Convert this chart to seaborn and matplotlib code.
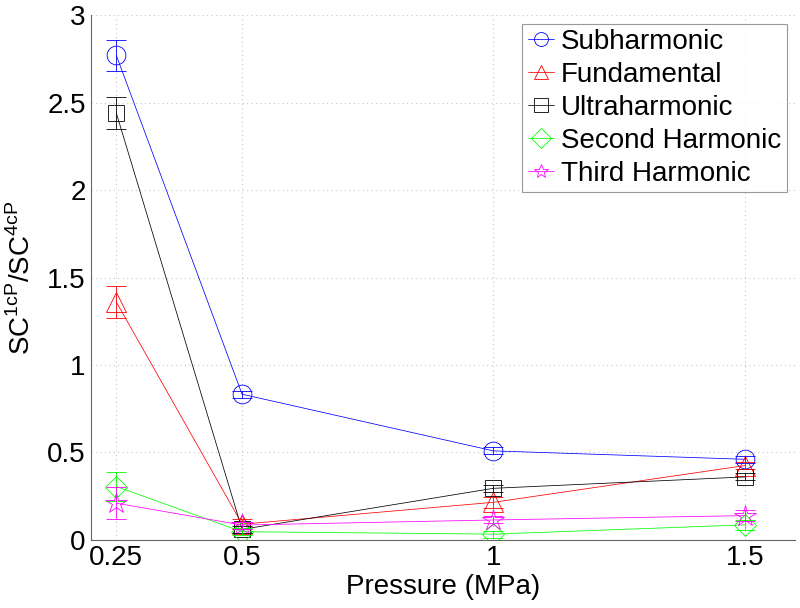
import numpy as np
import pandas as pd
import matplotlib
matplotlib.use("Agg")
import matplotlib.pyplot as plt
import seaborn as sns

pressure = [0.25, 0.5, 1.0, 1.5]
series_names = ["Subharmonic", "Fundamental", "Ultraharmonic", "Second Harmonic", "Third Harmonic"]
subharmonic = [2.77, 0.833, 0.509, 0.461]
fundamental = [1.36, 0.09, 0.215, 0.425]
ultraharmonic = [2.44, 0.06, 0.295, 0.36]
second_harmonic = [0.305, 0.047, 0.033, 0.086]
third_harmonic = [0.21, 0.085, 0.114, 0.139]
subharmonic_err = [0.09, 0.02, 0.02, 0.02]
fundamental_err = [0.09, 0.03, 0.03, 0.02]
ultraharmonic_err = [0.09, 0.02, 0.02, 0.02]
second_harmonic_err = [0.085, 0.02, 0.02, 0.03]
third_harmonic_err = [0.09, 0.02, 0.02, 0.03]

values = [subharmonic, fundamental, ultraharmonic, second_harmonic, third_harmonic]
errors = [subharmonic_err, fundamental_err, ultraharmonic_err, second_harmonic_err, third_harmonic_err]
colors = {"Subharmonic": "#0000ff", "Fundamental": "#ff0000", "Ultraharmonic": "#000000",
          "Second Harmonic": "#00ff00", "Third Harmonic": "#ff00ff"}
markers = {"Subharmonic": "o", "Fundamental": "^", "Ultraharmonic": "s",
           "Second Harmonic": "D", "Third Harmonic": "*"}
msizes = {"Subharmonic": 13.5, "Fundamental": 14, "Ultraharmonic": 11,
          "Second Harmonic": 11, "Third Harmonic": 16}

rows = []
for name, vals, errs in zip(series_names, values, errors):
    for p, v, e in zip(pressure, vals, errs):
        rows.append({"Pressure": p, "Value": v, "Err": e, "Series": name})
df = pd.DataFrame(rows)

sns.set_theme(style="white")
plt.rcParams["font.family"] = ["Liberation Sans", "DejaVu Sans"]
plt.rcParams["mathtext.fontset"] = "custom"
plt.rcParams["mathtext.rm"] = "Liberation Sans"
plt.rcParams["text.color"] = "black"
plt.rcParams["axes.labelcolor"] = "black"
plt.rcParams["xtick.color"] = "black"
plt.rcParams["ytick.color"] = "black"

fig = plt.figure(figsize=(8, 6.08), dpi=100)
ax = fig.add_axes([0.114, 0.112, 0.880, 0.863])

# grid
ax.set_axisbelow(True)
ax.grid(True, linestyle=(0, (1, 3)), color="#c8c8c8", linewidth=0.8)

sns.lineplot(data=df, x="Pressure", y="Value", hue="Series", style="Series",
             hue_order=series_names, style_order=series_names,
             palette=colors, markers=markers, dashes=False, linewidth=0.55,
             legend=False, ax=ax, sort=False, estimator=None)

for line, name in zip(ax.get_lines(), series_names):
    c = colors[name]
    line.set_markerfacecolor("none")
    line.set_markeredgecolor(c)
    line.set_markeredgewidth(0.6)
    line.set_markersize(msizes[name])
    line.set_label(name)

for name in series_names:
    sub = df[df["Series"] == name]
    ax.errorbar(sub["Pressure"], sub["Value"], yerr=sub["Err"], fmt="none",
                ecolor=colors[name], elinewidth=0.6, capsize=7, capthick=0.6)

ax.set_xlim(0.2, 1.6)
ax.set_ylim(0, 3)
ax.set_xticks(pressure)
ax.set_xticklabels(["0.25", "0.5", "1", "1.5"])
ax.set_yticks([0, 0.5, 1, 1.5, 2, 2.5, 3])
ax.set_yticklabels(["0", "0.5", "1", "1.5", "2", "2.5", "3"])
ax.tick_params(axis="both", labelsize=20, direction="in", length=4, color="#666666",
               labelcolor="black", pad=4, width=0.6)

for s in ["top", "right"]:
    ax.spines[s].set_visible(False)
for s in ["left", "bottom"]:
    ax.spines[s].set_color("#666666")
    ax.spines[s].set_linewidth(0.8)

ax.set_xlabel("Pressure (MPa)", fontsize=20, labelpad=2, color="black")
ax.set_ylabel(r"SC$^{\mathrm{1cP}}$/SC$^{\mathrm{4cP}}$", fontsize=20, labelpad=8, color="black")

leg = ax.legend(handles=ax.get_lines()[:5], loc="upper right", fontsize=20,
                frameon=True, fancybox=False, handlelength=0.95, handletextpad=0.25,
                borderpad=0.2, labelspacing=0.25, borderaxespad=0.3)
leg.get_frame().set_edgecolor("#808080")
leg.get_frame().set_linewidth(0.8)
for t in leg.get_texts():
    t.set_color("black")
for h in leg.legend_handles:
    h.set_markersize(10)

fig.savefig("out.png", dpi=100)
